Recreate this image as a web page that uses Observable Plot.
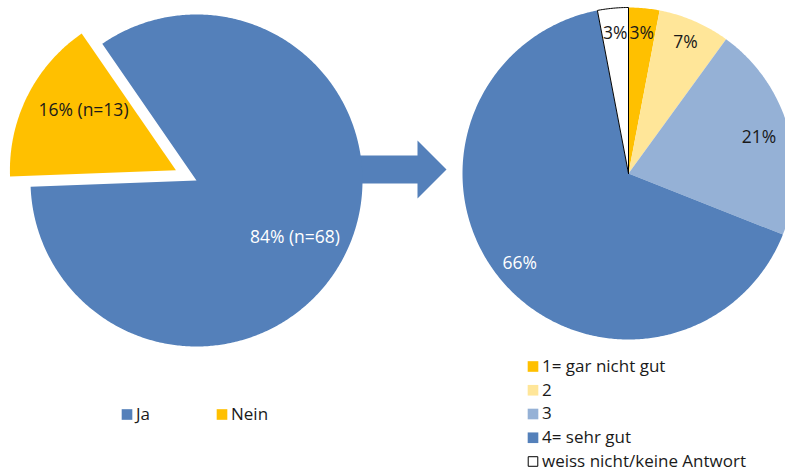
<!DOCTYPE html>
<html><head><meta charset="utf-8">
<script src="https://cdn.jsdelivr.net/npm/d3@7"></script>
<script src="https://cdn.jsdelivr.net/npm/@observablehq/plot@0.6"></script>
<style>body{margin:0;background:#fff}</style>
</head><body><div id="chart"></div>
<script>
// ---- data ----
const leftCategories = ["Ja", "Nein"];
const leftValues = [84, 16];
const leftCounts = [68, 13];
const rightCategories = ["1= gar nicht gut", "2", "3", "4= sehr gut", "weiss nicht/keine Antwort"];
const rightValues = [3, 7, 21, 66, 3];

// ---- styles ----
const leftColors = ["#5480BA", "#FFC000"];
const rightColors = ["#FFC000", "#FFE699", "#95B1D6", "#5480BA", "#FFFFFF"];
const deg = Math.PI / 180;

function pieGeometry(cats, vals, cx, cy, r, start, explode, labelRatio, labelShift, labelFn) {
  const arcs = d3.pie().sort(null).startAngle(start).endAngle(start + 2 * Math.PI)(vals);
  const polys = [], labels = [];
  arcs.forEach((a, i) => {
    const mid = (a.startAngle + a.endAngle) / 2;
    const off = explode[i] || 0;
    const ox = cx + off * Math.sin(mid), oy = cy - off * Math.cos(mid);
    const n = Math.max(2, Math.ceil((a.endAngle - a.startAngle) / 0.01));
    polys.push({cat: cats[i], x: ox, y: oy});
    for (let k = 0; k <= n; k++) {
      const t = a.startAngle + (a.endAngle - a.startAngle) * k / n;
      polys.push({cat: cats[i], x: ox + r * Math.sin(t), y: oy - r * Math.cos(t)});
    }
    polys.push({cat: cats[i], x: ox, y: oy});
    const [sx, sy] = labelShift[i] || [0, 0];
    labels.push({cat: cats[i], text: labelFn(i),
      x: ox + labelRatio * r * Math.sin(mid) + sx, y: oy - labelRatio * r * Math.cos(mid) + sy});
  });
  return {polys, labels};
}

const left = pieGeometry(leftCategories, leftValues, 196, 180, 166, -34.6 * deg, [0, 23], 0.67,
  [[-1, 7], [7, -10]], i => `${leftValues[i]}% (n=${leftCounts[i]})`);
const right = pieGeometry(rightCategories, rightValues, 628, 173, 166, 0, [], 0.85,
  [[0, 0], [1, -2], [-5, 3], [0, 0], [0, 0]], i => `${rightValues[i]}%`);

const whiteLabels = new Set(["Ja", "4= sehr gut"]);

// arrow shape (layout)
const ax0 = 340, ax1 = 417, axTip = 446, ay = 169, bodyH = 14, headH = 29;
const arrow = [[ax0, ay - bodyH], [ax1, ay - bodyH], [ax1, ay - headH], [axTip, ay], [ax1, ay + headH], [ax1, ay + bodyH], [ax0, ay + bodyH]]
  .map(([x, y]) => ({x, y}));

// legends
const leftLegend = leftCategories.map((c, i) => ({cat: c, x: 126.5 + 95 * i, y: 414}));
const rightLegend = rightCategories.map((c, i) => ({cat: c, x: 532.5, y: 366 + 23.75 * i}));
const legendAll = leftLegend.concat(rightLegend);

const chart = Plot.plot({
  width: 785, height: 471, margin: 0,
  x: {domain: [0, 785], range: [0, 785], axis: null},
  y: {domain: [0, 471], range: [0, 471], axis: null},
  color: {domain: leftCategories.concat(rightCategories), range: leftColors.concat(rightColors)},
  style: {fontFamily: "'Open Sans', sans-serif", fontSize: "17px", background: "#fff"},
  marks: [
    Plot.line(arrow, {x: "x", y: "y", fill: "#5480BA", stroke: "none"}),
    Plot.line(left.polys, {x: "x", y: "y", z: "cat", fill: "cat", stroke: "none"}),
    Plot.line(right.polys, {x: "x", y: "y", z: "cat", fill: "cat", stroke: "none"}),
    Plot.line(right.polys.filter(d => d.cat === "weiss nicht/keine Antwort"), {x: "x", y: "y", stroke: "#000", strokeWidth: 1}),
    Plot.text(left.labels.concat(right.labels), {x: "x", y: "y", text: "text", fontSize: 17.5,
      fill: d => whiteLabels.has(d.cat) ? "#fff" : "#1a1a1a"}),
    Plot.dot(legendAll.filter(d => d.cat !== "weiss nicht/keine Antwort"), {x: "x", y: "y", fill: "cat", symbol: "square", r: 6}),
    Plot.dot(legendAll.filter(d => d.cat === "weiss nicht/keine Antwort"), {x: "x", y: "y", fill: "#fff", stroke: "#000", strokeWidth: 1, symbol: "square", r: 5.4}),
    Plot.text(legendAll, {x: d => d.x + 9, y: "y", text: "cat", textAnchor: "start", fontSize: 17, fill: "#1a1a1a"})
  ]
});
document.getElementById("chart").appendChild(chart);
</script>
</body></html>
